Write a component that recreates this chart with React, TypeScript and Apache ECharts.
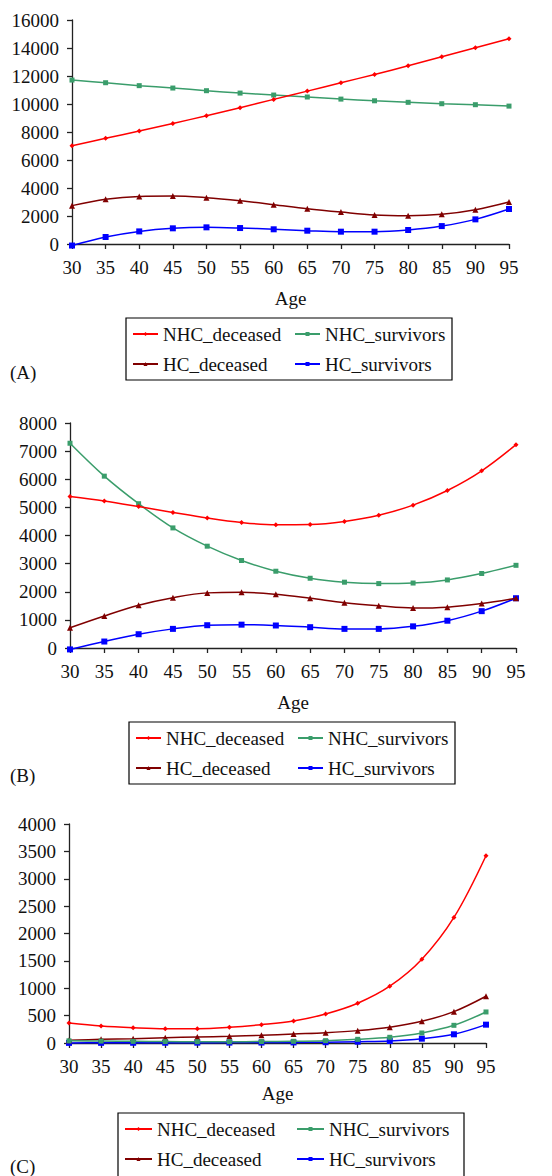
import React, { useEffect, useRef } from "react";
import * as echarts from "echarts";

const ages = ["30", "35", "40", "45", "50", "55", "60", "65", "70", "75", "80", "85", "90", "95"];
const seriesNames = ["NHC_deceased", "NHC_survivors", "HC_deceased", "HC_survivors"];

// Panel A
const aNhcDeceased = [7020, 7550, 8070, 8610, 9160, 9730, 10330, 10920, 11520, 12110, 12730, 13380, 14020, 14660];
const aNhcSurvivors = [11710, 11520, 11310, 11140, 10950, 10780, 10640, 10500, 10350, 10230, 10120, 10020, 9950, 9850];
const aHcDeceased = [2740, 3190, 3400, 3430, 3310, 3090, 2810, 2520, 2280, 2070, 2020, 2120, 2450, 3000];
const aHcSurvivors = [-110, 500, 900, 1120, 1190, 1140, 1050, 950, 880, 880, 1000, 1280, 1760, 2500];

// Panel B
const bNhcDeceased = [5390, 5230, 5030, 4820, 4620, 4460, 4380, 4390, 4500, 4720, 5080, 5600, 6300, 7230];
const bNhcSurvivors = [7280, 6110, 5130, 4270, 3620, 3110, 2730, 2480, 2340, 2290, 2310, 2420, 2650, 2940];
const bHcDeceased = [720, 1140, 1520, 1790, 1960, 1980, 1910, 1770, 1610, 1500, 1420, 1450, 1580, 1770];
const bHcSurvivors = [-50, 230, 490, 680, 810, 830, 800, 740, 680, 680, 770, 970, 1310, 1770];

// Panel C
const cNhcDeceased = [366, 311, 280, 262, 262, 287, 335, 402, 530, 726, 1037, 1530, 2293, 3421];
const cNhcSurvivors = [40, 35, 30, 26, 24, 24, 26, 31, 43, 67, 104, 183, 323, 567];
const cHcDeceased = [49, 67, 79, 98, 110, 122, 140, 165, 189, 226, 287, 396, 573, 854];
const cHcSurvivors = [2, 3, 4, 5, 6, 7, 8, 10, 14, 24, 37, 79, 159, 335];

const yTicksA = { min: 0, max: 16000, interval: 2000 };
const yTicksB = { min: 0, max: 8000, interval: 1000 };
const yTicksC = { min: 0, max: 4000, interval: 500 };

const colors = ["#FF0000", "#3A9D6B", "#800000", "#0000FF"];
const symbols = ["diamond", "rect", "triangle", "rect"];
const symbolSizes = [5, 5, 6, 6];

const FONT = "'Liberation Serif', 'Times New Roman', 'DejaVu Serif', serif";
const FS = 19;

export default function App() {
  const ref = useRef<HTMLDivElement>(null);
  useEffect(() => {
    document.body.style.margin = "0";
    if (!ref.current) return;
    const chart = echarts.init(ref.current, undefined, { renderer: "svg" });

    const panels = [
      { data: [aNhcDeceased, aNhcSurvivors, aHcDeceased, aHcSurvivors], y: yTicksA, grid: { left: 72, top: 20, width: 437, height: 224 } },
      { data: [bNhcDeceased, bNhcSurvivors, bHcDeceased, bHcSurvivors], y: yTicksB, grid: { left: 70, top: 423, width: 446, height: 225 } },
      { data: [cNhcDeceased, cNhcSurvivors, cHcDeceased, cHcSurvivors], y: yTicksC, grid: { left: 69, top: 824, width: 417, height: 219 } },
    ];

    const axisLine = { show: true, lineStyle: { color: "#222", width: 1.3 } };
    const axisTick = { show: true, inside: false, length: 5, lineStyle: { color: "#222", width: 1.3 } };

    const grids = panels.map((p) => p.grid);
    const xAxes = panels.map((p, i) => ({
      type: "category",
      gridIndex: i,
      data: ages,
      boundaryGap: false,
      axisLine,
      axisTick: { ...axisTick, alignWithLabel: true },
      axisLabel: { color: "#111", fontFamily: FONT, fontSize: FS, margin: 14 },
      name: "Age",
      nameLocation: "middle",
      nameGap: i === 2 ? 41 : 45,
      nameTextStyle: { color: "#111", fontFamily: FONT, fontSize: FS },
      splitLine: { show: false },
    }));
    const yAxes = panels.map((p, i) => ({
      type: "value",
      gridIndex: i,
      min: p.y.min,
      max: p.y.max,
      interval: p.y.interval,
      axisLine,
      axisTick,
      axisLabel: { color: "#111", fontFamily: FONT, fontSize: FS, margin: 13, formatter: (v: number) => String(v) },
      splitLine: { show: false },
    }));

    const series: any[] = [];
    panels.forEach((p, pi) => {
      p.data.forEach((vals, si) => {
        series.push({
          type: "line",
          name: seriesNames[si],
          xAxisIndex: pi,
          yAxisIndex: pi,
          data: vals,
          smooth: 0.35,
          clip: false,
          symbol: symbols[si],
          symbolSize: symbolSizes[si],
          showSymbol: true,
          lineStyle: { color: colors[si], width: 1.5 },
          itemStyle: { color: colors[si] },
          z: 10 - si,
        });
      });
    });

    const legendBase = (left: number, top: number, iconW: number, textW: number) => ({
      left,
      top,
      width: 2 * (iconW + 5 + textW) + 14,
      orient: "horizontal",
      data: seriesNames,
      itemWidth: iconW,
      itemHeight: 5,
      itemGap: 10,
      padding: [6, 6, 6, 6],
      borderColor: "#000",
      borderWidth: 1.2,
      selectedMode: false,
      itemStyle: { borderWidth: 0 },
      textStyle: { color: "#111", fontFamily: FONT, fontSize: FS, width: textW, lineHeight: 20, height: 20 },
    });

    const option: any = {
      animation: false,
      backgroundColor: "#fff",
      textStyle: { fontFamily: FONT },
      grid: grids,
      xAxis: xAxes,
      yAxis: yAxes,
      legend: [
        legendBase(126, 318, 25, 121),
        legendBase(129, 722, 25, 121),
        { ...legendBase(118, 1113, 27, 129), padding: [6, 6, 12, 6] },
      ],
      series,
      graphic: [
        { type: "text", left: 10, top: 363, style: { text: "(A)", fontFamily: FONT, fontSize: FS, fill: "#111" } },
        { type: "text", left: 10, top: 766, style: { text: "(B)", fontFamily: FONT, fontSize: FS, fill: "#111" } },
        { type: "text", left: 10, top: 1157, style: { text: "(C)", fontFamily: FONT, fontSize: FS, fill: "#111" } },
      ],
    };
    chart.setOption(option);
    return () => chart.dispose();
  }, []);
  return <div ref={ref} style={{ width: 552, height: 1176, position: "absolute", left: 0, top: 0 }} />;
}
